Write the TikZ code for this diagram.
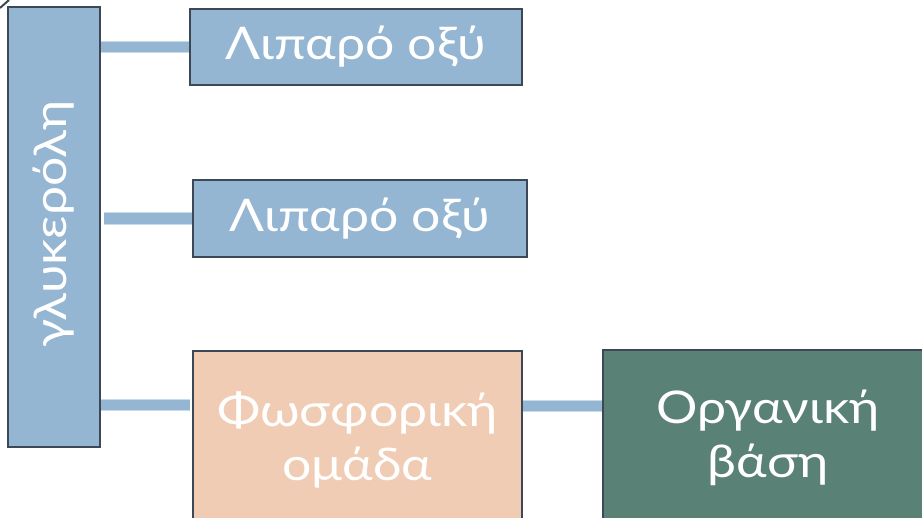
\documentclass[tikz,border=0pt]{standalone}
\usepackage{fontspec}
\setmainfont{Lato}[FakeStretch=1.15]
\definecolor{boxblue}{HTML}{94B6D2}
\definecolor{boxedge}{HTML}{3C4856}
\definecolor{peach}{HTML}{F0CCB4}
\definecolor{sage}{HTML}{598176}
\definecolor{linkedge}{HTML}{C9DAE8}
\begin{document}
\begin{tikzpicture}[x=1pt,y=-1pt,
  box/.style={draw=boxedge,line width=2.6pt,rectangle,inner sep=0pt,text=white,
    font=\fontsize{45}{54}\selectfont,align=center},
  link/.style={draw=linkedge,line width=0.8pt,double=boxblue,double distance=10.5pt}]
\useasboundingbox (0,0) rectangle (922,518);
\node[box,fill=boxblue,minimum width=92,minimum height=440] (L) at (54,227) {};
\node[text=white,rotate=90,font=\fontsize{45}{54}\selectfont] (Lt) at (54,224) {γλυκερόλη};
\node[box,fill=boxblue,minimum width=332,minimum height=76] (b1) at (356,47) {Λιπαρό οξύ};
\node[box,fill=boxblue,minimum width=334,minimum height=77] (b2) at (360,218.5) {Λιπαρό οξύ};
\node[box,fill=peach,minimum width=329,minimum height=178] (b3) at (357.5,440) {Φωσφορική\\ομάδα};
\node[box,fill=sage,minimum width=330,minimum height=176] (b4) at (768,438) {Οργανική\\βάση};
\coordinate (j3) at (190,405);
\draw[link] (L.east |- b1.west) -- (b1.west);
\draw[link] ([xshift=3]L.east |- b2.west) -- (b2.west);
\draw[link] (L.east |- j3) -- (j3);
\draw[link] (b3.east |- 0,406) -- (b4.west |- 0,406);
\coordinate (t0) at (0,8);
\coordinate (t1) at (9,0);
\draw[boxedge,line width=2pt] (t0) -- (t1);
\end{tikzpicture}
\end{document}
